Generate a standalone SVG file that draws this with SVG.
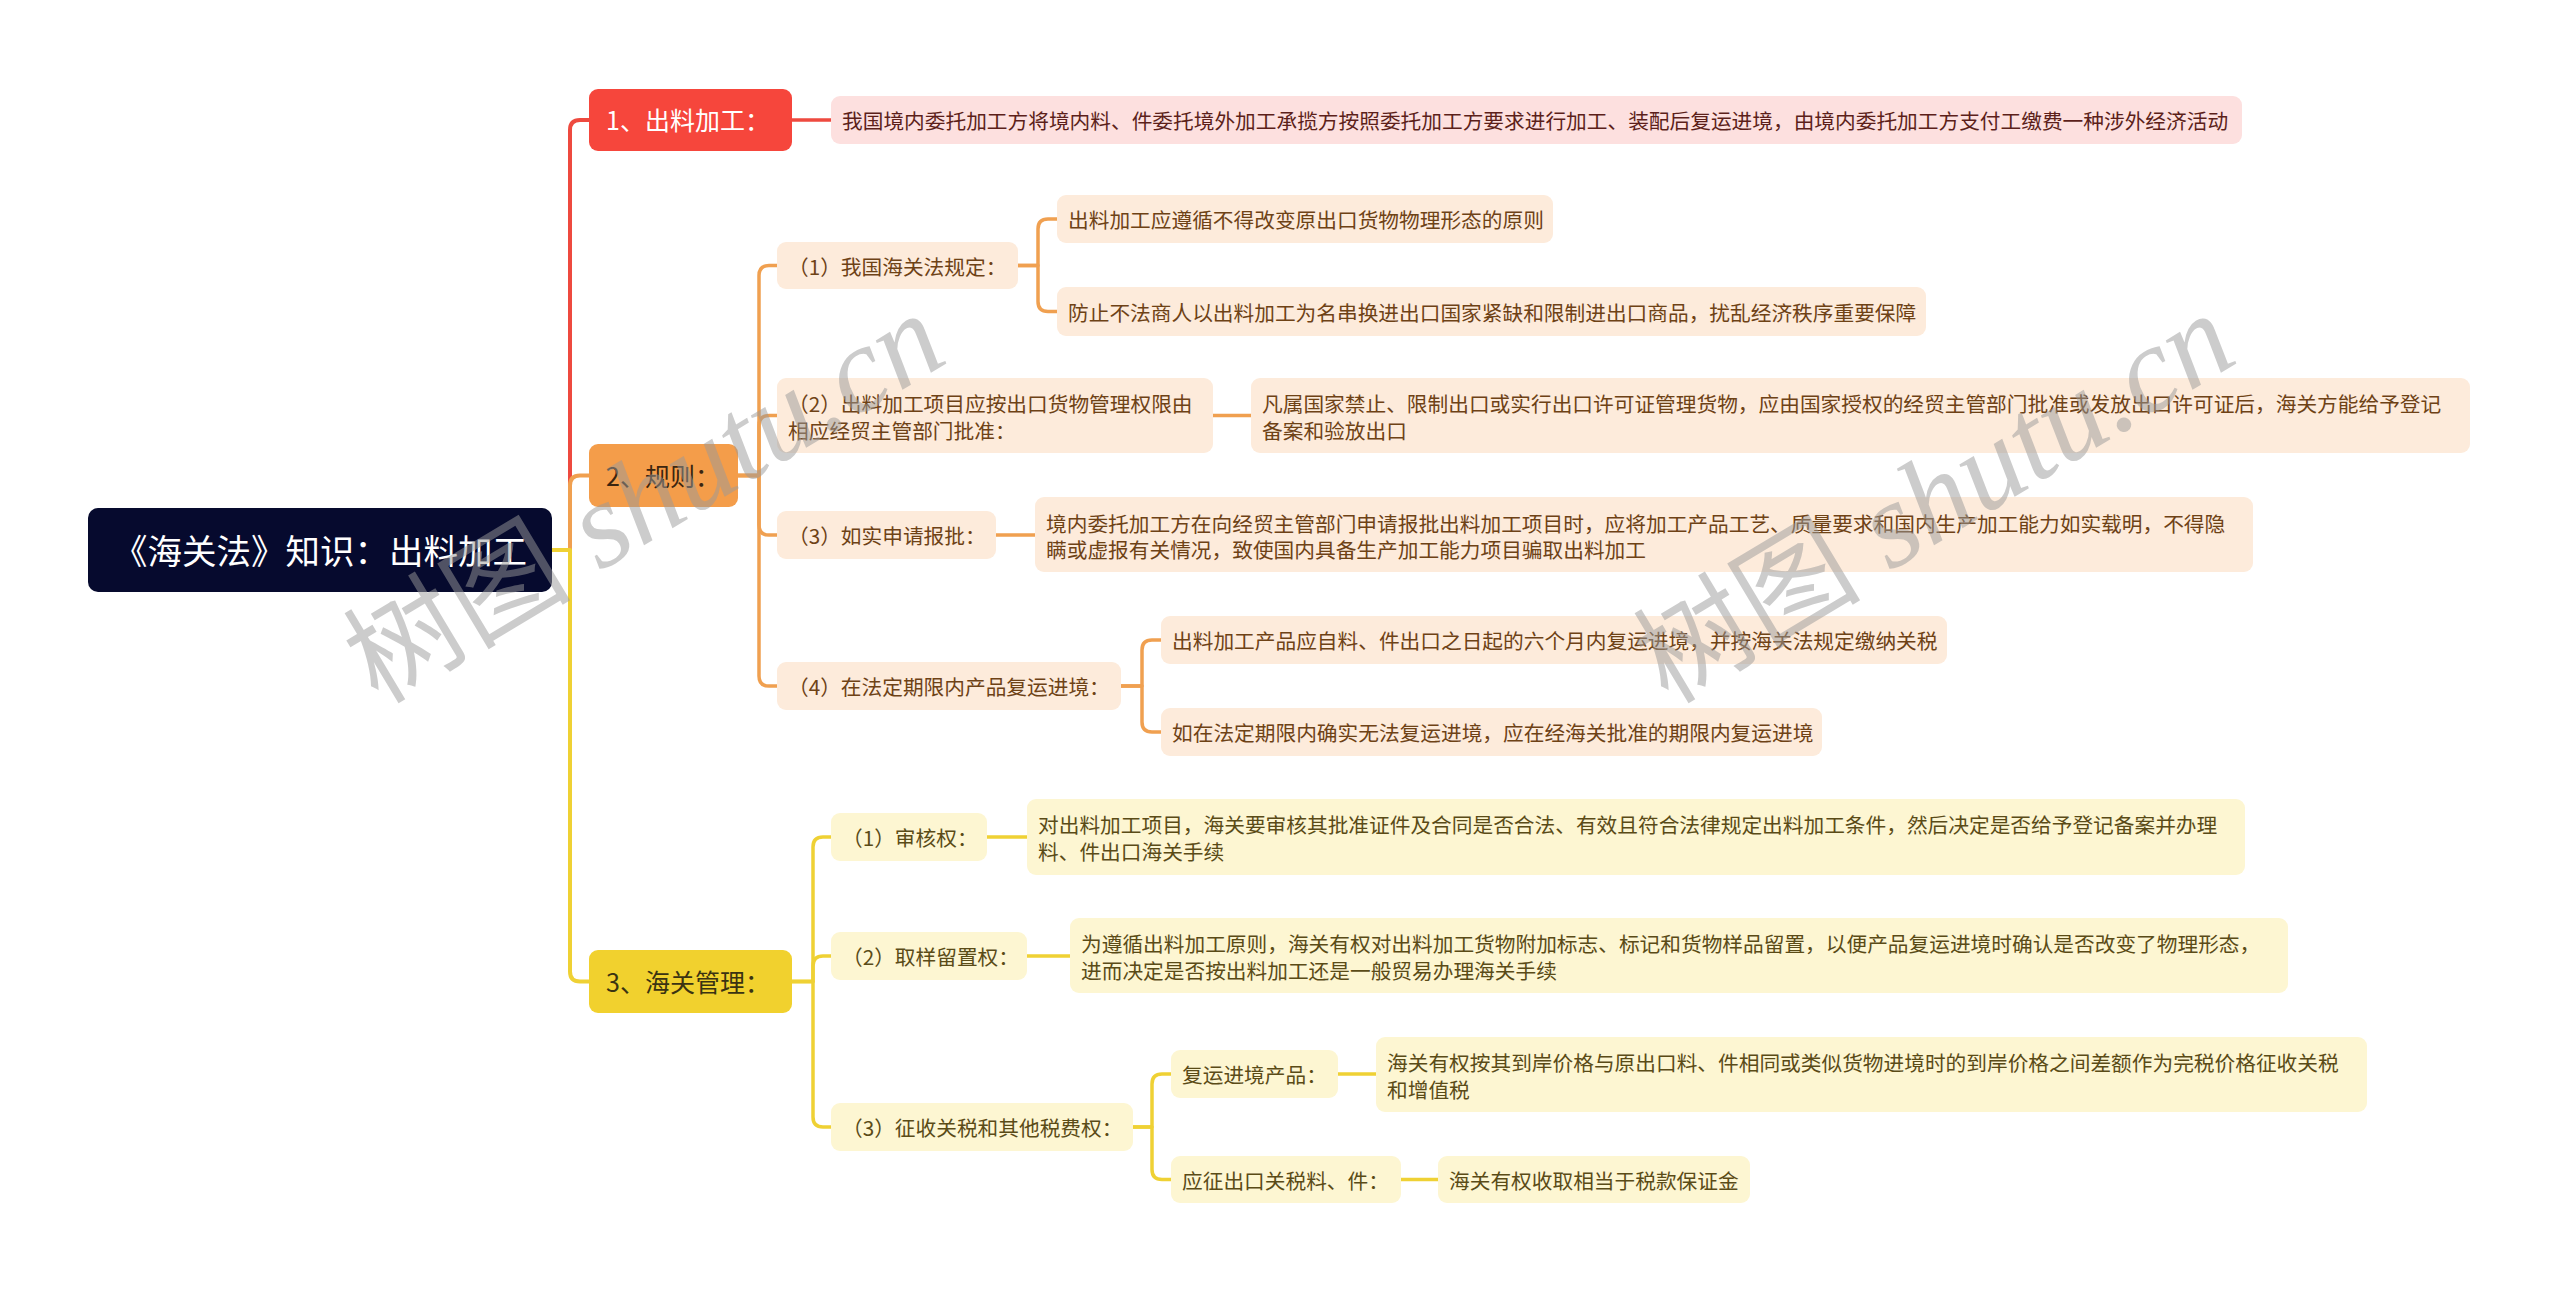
<svg xmlns="http://www.w3.org/2000/svg" width="2560" height="1292" viewBox="0 0 2560 1292">
<style>
text{font-family:"Noto Sans CJK SC","Noto Sans",sans-serif;dominant-baseline:central}
.root rect{fill:#060a2e}
.root text{fill:#ffffff;font-size:34.5px}
.b text{font-size:25px}
.b1 rect{fill:#f6463c}.b1 text{fill:#ffffff}
.b2 rect{fill:#f49d4a}.b2 text{fill:#3b2510}
.b3 rect{fill:#f1d12e}.b3 text{fill:#3a3312}
.n text{font-size:20.7px}
.p1 rect{fill:#fde0df}.p1 text{fill:#5c1f1a}
.p2 rect{fill:#fdebdb}.p2 text{fill:#6e4216}
.p3 rect{fill:#fdf6d2}.p3 text{fill:#5a4b17}
.c{fill:none;stroke-linecap:round;stroke-linejoin:round}
.cr{stroke:#ee4a3f}.co{stroke:#f0a050}.cy{stroke:#efd134}
.w4{stroke-width:4}.w3{stroke-width:3.5}
.wm{fill:#9a9a9a;opacity:0.5;font-size:114px;dominant-baseline:alphabetic}
.wm .en{font-family:"Liberation Serif",serif;font-style:italic;font-size:122px}
</style>
<rect width="2560" height="1292" fill="#ffffff"/>
<g id="connectors">
<path class="c cr w4" d="M552 550 H570 V130 Q570 120 580 120 H589"/>
<path class="c co w4" d="M552 550 H570 V485.5 Q570 475.5 580 475.5 H589"/>
<path class="c cy w4" d="M552 550 H570 V971.5 Q570 981.5 580 981.5 H589"/>
<path class="c cr w3" d="M792 120 H831"/>
<path class="c co w3" d="M738 475.5 H759 V275.5 Q759 265.5 769 265.5 H777"/>
<path class="c co w3" d="M738 475.5 H759 V425.5 Q759 415.5 769 415.5 H777"/>
<path class="c co w3" d="M738 475.5 H759 V525 Q759 535 769 535 H777"/>
<path class="c co w3" d="M738 475.5 H759 V676 Q759 686 769 686 H777"/>
<path class="c co w3" d="M1018 265.5 H1038 V229 Q1038 219 1048 219 H1057"/>
<path class="c co w3" d="M1018 265.5 H1038 V301.5 Q1038 311.5 1048 311.5 H1057"/>
<path class="c co w3" d="M1213 415.5 H1251"/>
<path class="c co w3" d="M996 535 H1035"/>
<path class="c co w3" d="M1121 686 H1142 V650 Q1142 640 1152 640 H1161"/>
<path class="c co w3" d="M1121 686 H1142 V722 Q1142 732 1152 732 H1161"/>
<path class="c cy w3" d="M792 981.5 H813 V847 Q813 837 823 837 H831"/>
<path class="c cy w3" d="M792 981.5 H813 V966 Q813 956 823 956 H831"/>
<path class="c cy w3" d="M792 981.5 H813 V1117 Q813 1127 823 1127 H831"/>
<path class="c cy w3" d="M987 837 H1027"/>
<path class="c cy w3" d="M1027 956 H1070"/>
<path class="c cy w3" d="M1133 1127 H1152 V1084 Q1152 1074 1162 1074 H1171"/>
<path class="c cy w3" d="M1133 1127 H1152 V1169.5 Q1152 1179.5 1162 1179.5 H1171"/>
<path class="c cy w3" d="M1338 1074 H1376"/>
<path class="c cy w3" d="M1401 1179.5 H1438"/>
</g>
<g id="root" class="root"><rect x="88" y="508" width="464" height="84" rx="10"/><text x="320" y="549" text-anchor="middle">《海关法》知识：出料加工</text></g>
<g id="b1" class="b b1"><rect x="589" y="89" width="203" height="62" rx="9"/><text x="606" y="119">1、出料加工：</text></g>
<g id="b2" class="b b2"><rect x="589" y="444" width="149" height="63" rx="9"/><text x="606" y="475">2、规则：</text></g>
<g id="b3" class="b b3"><rect x="589" y="950" width="203" height="63" rx="9"/><text x="606" y="981">3、海关管理：</text></g>
<g id="l1" class="n p1"><rect x="831" y="96" width="1411" height="48" rx="9"/><text x="842" y="120">我国境内委托加工方将境内料、件委托境外加工承揽方按照委托加工方要求进行加工、装配后复运进境，由境内委托加工方支付工缴费一种涉外经济活动</text></g>
<g id="s21" class="n p2"><rect x="777" y="242" width="241" height="47" rx="9"/><text x="788" y="265.5">（1）我国海关法规定：</text></g>
<g id="l211" class="n p2"><rect x="1057" y="195" width="496" height="48" rx="9"/><text x="1068" y="219">出料加工应遵循不得改变原出口货物物理形态的原则</text></g>
<g id="l212" class="n p2"><rect x="1057" y="287" width="869" height="49" rx="9"/><text x="1068" y="311.5">防止不法商人以出料加工为名串换进出口国家紧缺和限制进出口商品，扰乱经济秩序重要保障</text></g>
<g id="s22" class="n p2"><rect x="777" y="378" width="436" height="75" rx="9"/><text x="788" y="402.5">（2）出料加工项目应按出口货物管理权限由</text><text x="788" y="429.5">相应经贸主管部门批准：</text></g>
<g id="l22" class="n p2"><rect x="1251" y="378" width="1219" height="75" rx="9"/><text x="1262" y="403">凡属国家禁止、限制出口或实行出口许可证管理货物，应由国家授权的经贸主管部门批准或发放出口许可证后，海关方能给予登记</text><text x="1262" y="430">备案和验放出口</text></g>
<g id="s23" class="n p2"><rect x="777" y="511" width="219" height="48" rx="9"/><text x="788" y="535">（3）如实申请报批：</text></g>
<g id="l23" class="n p2"><rect x="1035" y="497" width="1218" height="75" rx="9"/><text x="1046" y="522.5">境内委托加工方在向经贸主管部门申请报批出料加工项目时，应将加工产品工艺、质量要求和国内生产加工能力如实载明，不得隐</text><text x="1046" y="549">瞒或虚报有关情况，致使国内具备生产加工能力项目骗取出料加工</text></g>
<g id="s24" class="n p2"><rect x="777" y="662" width="344" height="48" rx="9"/><text x="788" y="686">（4）在法定期限内产品复运进境：</text></g>
<g id="l241" class="n p2"><rect x="1161" y="616" width="786" height="48" rx="9"/><text x="1172" y="640">出料加工产品应自料、件出口之日起的六个月内复运进境，并按海关法规定缴纳关税</text></g>
<g id="l242" class="n p2"><rect x="1161" y="708" width="661" height="48" rx="9"/><text x="1172" y="732">如在法定期限内确实无法复运进境，应在经海关批准的期限内复运进境</text></g>
<g id="s31" class="n p3"><rect x="831" y="813" width="156" height="48" rx="9"/><text x="842" y="837">（1）审核权：</text></g>
<g id="l31" class="n p3"><rect x="1027" y="799" width="1218" height="76" rx="9"/><text x="1038" y="824">对出料加工项目，海关要审核其批准证件及合同是否合法、有效且符合法律规定出料加工条件，然后决定是否给予登记备案并办理</text><text x="1038" y="850.5">料、件出口海关手续</text></g>
<g id="s32" class="n p3"><rect x="831" y="932" width="196" height="48" rx="9"/><text x="842" y="956">（2）取样留置权：</text></g>
<g id="l32" class="n p3"><rect x="1070" y="918" width="1218" height="75" rx="9"/><text x="1081" y="943">为遵循出料加工原则，海关有权对出料加工货物附加标志、标记和货物样品留置，以便产品复运进境时确认是否改变了物理形态，</text><text x="1081" y="969.5">进而决定是否按出料加工还是一般贸易办理海关手续</text></g>
<g id="s33" class="n p3"><rect x="831" y="1103" width="302" height="48" rx="9"/><text x="842" y="1127">（3）征收关税和其他税费权：</text></g>
<g id="s331" class="n p3"><rect x="1171" y="1050" width="167" height="48" rx="9"/><text x="1182" y="1074">复运进境产品：</text></g>
<g id="l331" class="n p3"><rect x="1376" y="1037" width="991" height="75" rx="9"/><text x="1387" y="1062">海关有权按其到岸价格与原出口料、件相同或类似货物进境时的到岸价格之间差额作为完税价格征收关税</text><text x="1387" y="1088.5">和增值税</text></g>
<g id="s332" class="n p3"><rect x="1171" y="1156" width="230" height="47" rx="9"/><text x="1182" y="1179.5">应征出口关税料、件：</text></g>
<g id="l332" class="n p3"><rect x="1438" y="1156" width="312" height="47" rx="9"/><text x="1449" y="1179.5">海关有权收取相当于税款保证金</text></g>
<g id="watermarks">
<text class="wm" transform="translate(378,705) rotate(-31)">树图<tspan class="en"> shutu.cn</tspan></text>
<text class="wm" transform="translate(1668,705) rotate(-31)">树图<tspan class="en"> shutu.cn</tspan></text>
</g>
</svg>
